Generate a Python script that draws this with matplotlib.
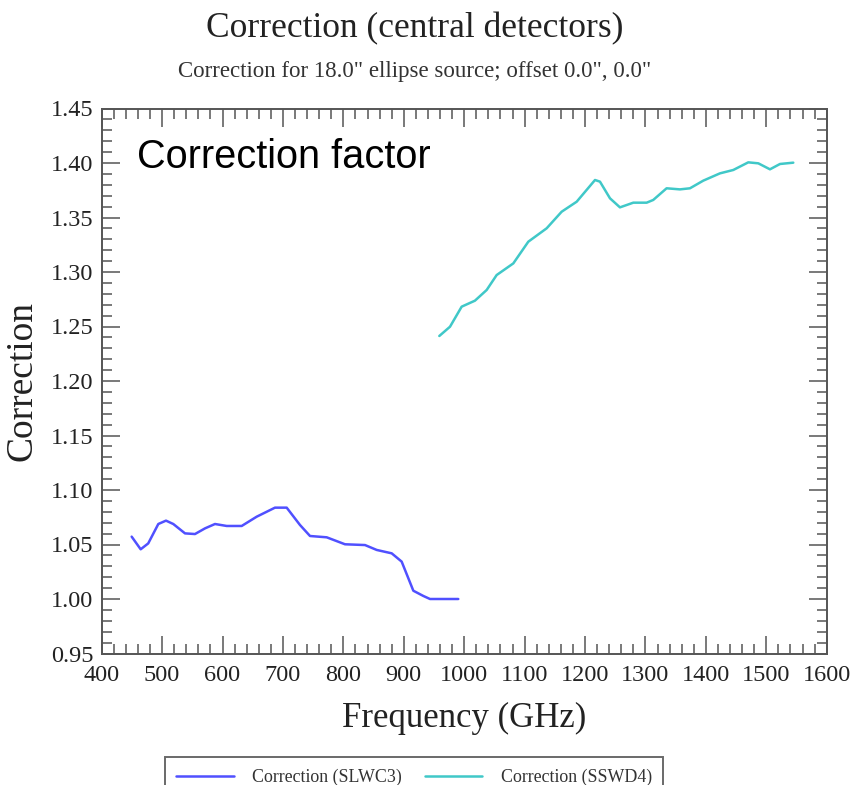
import matplotlib
matplotlib.use("Agg")
import matplotlib.pyplot as plt
from matplotlib.ticker import MultipleLocator, FormatStrFormatter

# Data
slw_freq = [449.6, 464.5, 477, 493.7, 506.4, 518.5, 537.9, 554.4, 571, 587.5, 606.9, 631.7,
            656.5, 686.8, 706.2, 728.2, 744.8, 772.4, 802.7, 835.8, 855.2, 880, 896.5, 915.8,
            932.3, 943.4, 990.2]
slw_corr = [1.0572, 1.0456, 1.051, 1.0688, 1.0719, 1.0688, 1.0602, 1.0596, 1.0648, 1.0688, 1.067, 1.067,
            1.0755, 1.0838, 1.0838, 1.0679, 1.0578, 1.0566, 1.0502, 1.0495, 1.045, 1.0419, 1.0343, 1.0076,
            1.0028, 1.000, 1.000]
ssw_freq = [958.8, 976.5, 995.8, 1017.8, 1037.2, 1053.7, 1081.3, 1106.1, 1136.5, 1161.3, 1186.2,
            1216.5, 1224.7, 1241.3, 1257.8, 1279.9, 1302, 1312.9, 1335, 1357.1, 1373.7, 1395.7,
            1423.3, 1445.4, 1470.2, 1486.8, 1506.1, 1522.7, 1544.7]
ssw_corr = [1.2413, 1.2498, 1.2682, 1.2737, 1.2835, 1.2972, 1.3079, 1.3278, 1.3401, 1.3553, 1.3645,
            1.3844, 1.3829, 1.3676, 1.3593, 1.3636, 1.3636, 1.3661, 1.3768, 1.3758, 1.3768, 1.3838,
            1.3905, 1.3936, 1.4006, 1.3997, 1.3942, 1.3991, 1.4003]
series_labels = ["Correction (SLWC3)", "Correction (SSWD4)"]

W, H = 856, 785
fig = plt.figure(figsize=(W / 100, H / 100), dpi=100)
ax = fig.add_axes([101.7 / W, 1 - 653.5 / H, 725 / W, 545 / H])

serif = "Liberation Serif"
ax.plot(slw_freq, slw_corr, color="#5050ff", lw=1.8, label=series_labels[0],
        solid_joinstyle="round", solid_capstyle="round")
ax.plot(ssw_freq, ssw_corr, color="#40c8c8", lw=1.8, label=series_labels[1],
        solid_joinstyle="round", solid_capstyle="round")

ax.set_xlim(400, 1600)
ax.set_ylim(0.95, 1.45)
ax.xaxis.set_major_locator(MultipleLocator(100))
ax.xaxis.set_minor_locator(MultipleLocator(20))
ax.yaxis.set_major_locator(MultipleLocator(0.05))
ax.yaxis.set_minor_locator(MultipleLocator(0.01))
ax.yaxis.set_major_formatter(FormatStrFormatter("%.2f"))
ax.tick_params(which="both", direction="in", top=True, right=True, color="#555555", width=1.1)
ax.tick_params(which="major", length=13, labelsize=17.5, labelcolor="#222222")
ax.tick_params(which="minor", length=7)
ax.tick_params(axis="x", which="major", pad=8)
ax.tick_params(axis="y", which="major", pad=6)
for lab in ax.get_xticklabels() + ax.get_yticklabels():
    lab.set_family(serif)
for s in ax.spines.values():
    s.set_color("#555555")
    s.set_linewidth(1.4)

ax.set_xlabel("Frequency (GHz)", family=serif, fontsize=25, labelpad=12, color="#222222")
ax.set_ylabel("Correction", family=serif, fontsize=27, labelpad=8, color="#222222")

fig.text(415 / W, 1 - 29 / H, "Correction (central detectors)", family=serif, fontsize=25.5,
         ha="center", va="center", color="#222222")
fig.text(415 / W, 1 - 71 / H, "Correction for 18.0\" ellipse source; offset 0.0\", 0.0\"",
         family=serif, fontsize=16.5, ha="center", va="center", color="#333333")
fig.text(137 / W, 1 - 157 / H, "Correction factor", family="Liberation Sans", fontsize=28.6,
         ha="left", va="center", color="black")

leg = fig.legend(loc="upper center", bbox_to_anchor=(414 / W, 1 - 757 / H), ncol=2,
                 prop={"family": serif, "size": 12.9}, frameon=True, fancybox=False,
                 handlelength=3.2, handletextpad=1.05, columnspacing=1.25,
                 borderpad=0.65, borderaxespad=0)
leg.get_frame().set_edgecolor("#444444")
leg.get_frame().set_linewidth(1.4)
for t in leg.get_texts():
    t.set_color("#333333")

fig.savefig("out.png", dpi=100)
